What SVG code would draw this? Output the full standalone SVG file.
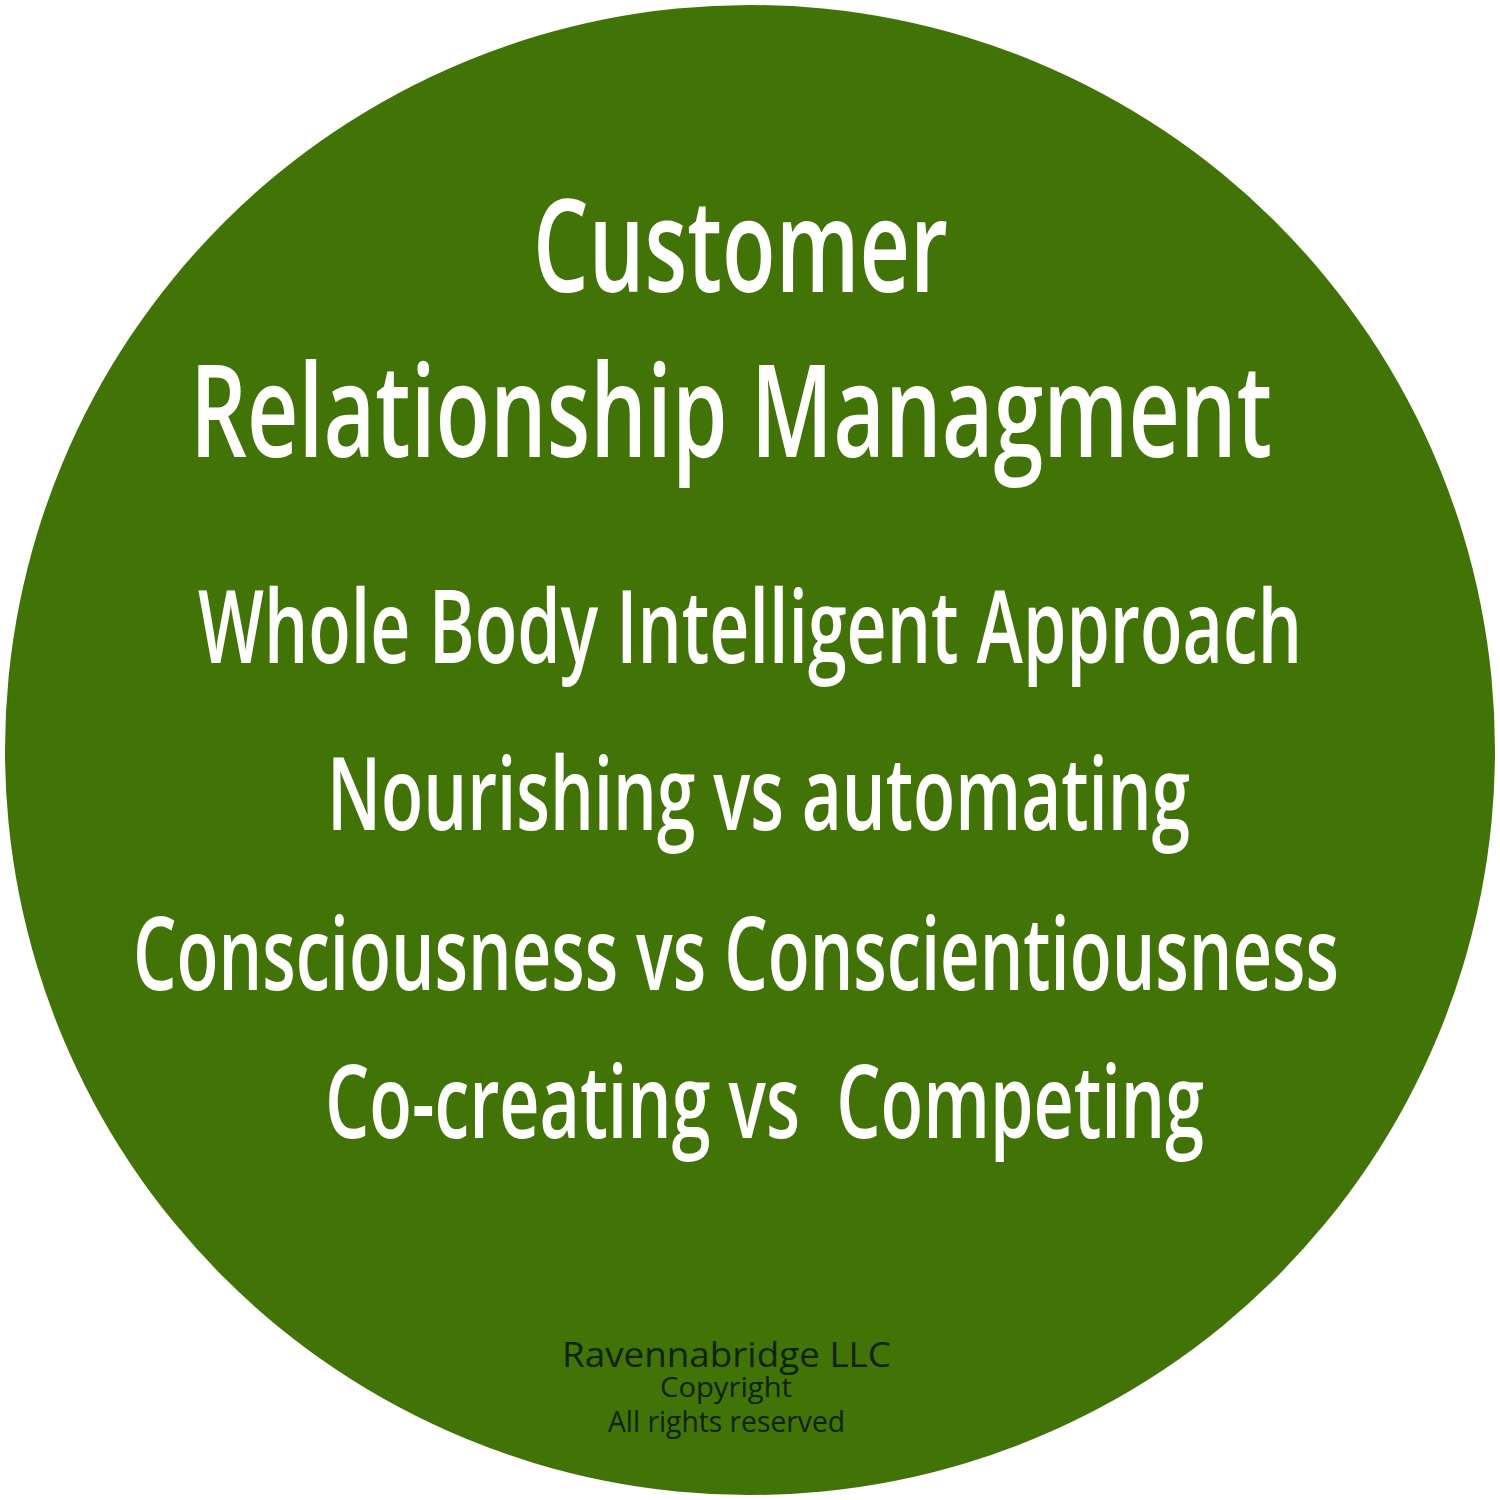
<svg xmlns="http://www.w3.org/2000/svg" width="1500" height="1500" viewBox="0 0 1500 1500">
  <style>
    .title { font-family: "Open Sans", "Liberation Sans", sans-serif; font-weight: 600; fill: #ffffff; }
    .big { font-size: 129px; }
    .mid { font-size: 102px; }
    .small { font-family: "Open Sans", "Liberation Sans", sans-serif; font-weight: 400; fill: #0f220b; }
  </style>
  <rect x="0" y="0" width="1500" height="1500" fill="#ffffff"/>
  <g id="circle">
    <circle cx="750" cy="750" r="745" fill="#427307"/>
  </g>
  <g id="heading">
    <text class="title big" x="533" y="292" textLength="415" lengthAdjust="spacingAndGlyphs">Customer</text>
    <text class="title big" x="190" y="457" textLength="1082" lengthAdjust="spacingAndGlyphs">Relationship Managment</text>
  </g>
  <g id="points">
    <text class="title mid" x="198" y="663" textLength="1104" lengthAdjust="spacingAndGlyphs">Whole Body Intelligent Approach</text>
    <text class="title mid" x="327" y="830" textLength="863" lengthAdjust="spacingAndGlyphs">Nourishing vs automating</text>
    <text class="title mid" x="133" y="990" textLength="1206" lengthAdjust="spacingAndGlyphs">Consciousness vs Conscientiousness</text>
    <text class="title mid" x="325" y="1138" textLength="879" lengthAdjust="spacingAndGlyphs" style="white-space:pre" xml:space="preserve">Co-creating vs  Competing</text>
  </g>
  <g id="copyright">
    <text class="small" x="562" y="1367" font-size="34" textLength="329" lengthAdjust="spacingAndGlyphs">Ravennabridge LLC</text>
    <text class="small" x="660" y="1397" font-size="27" textLength="132" lengthAdjust="spacingAndGlyphs">Copyright</text>
    <text class="small" x="608" y="1432" font-size="29" textLength="237" lengthAdjust="spacingAndGlyphs">All rights reserved</text>
  </g>
</svg>
